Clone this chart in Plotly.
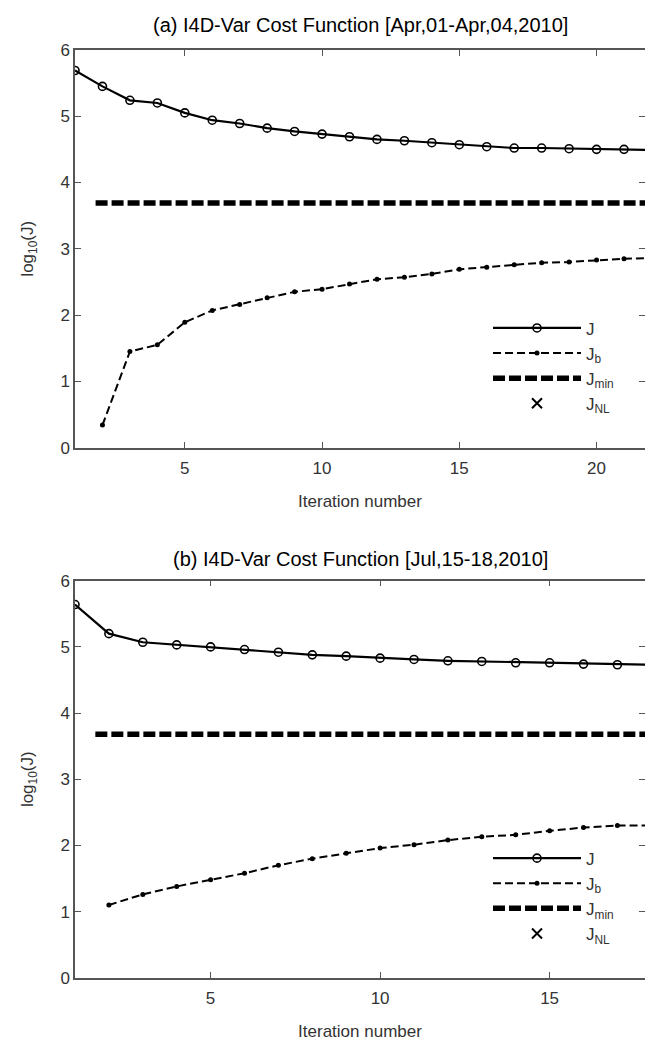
import plotly.graph_objects as go

# ---------------- data: panel (a) ----------------
iter_a = list(range(1, 23))
J_a = [5.69, 5.45, 5.24, 5.20, 5.05, 4.94, 4.89, 4.82, 4.77, 4.73, 4.69,
       4.65, 4.63, 4.60, 4.57, 4.54, 4.52, 4.52, 4.51, 4.50, 4.50, 4.49]
iter_b_a = list(range(2, 23))
Jb_a = [0.34, 1.45, 1.55, 1.89, 2.07, 2.16, 2.26, 2.35, 2.39, 2.47, 2.54,
        2.57, 2.62, 2.69, 2.72, 2.76, 2.79, 2.80, 2.83, 2.85, 2.86]
Jmin_x_a = [1.75, 22]
Jmin_a = [3.69, 3.69]

# ---------------- data: panel (b) ----------------
iter_b = list(range(1, 19))
J_b = [5.64, 5.20, 5.07, 5.03, 5.00, 4.96, 4.92, 4.88, 4.86, 4.83, 4.81,
       4.79, 4.78, 4.76, 4.76, 4.74, 4.73, 4.73]
iter_b_b = list(range(2, 19))
Jb_b = [1.10, 1.26, 1.38, 1.48, 1.58, 1.70, 1.80, 1.88, 1.96, 2.01, 2.08,
        2.13, 2.16, 2.22, 2.27, 2.30, 2.30]
Jmin_x_b = [1.6, 18]
Jmin_b = [3.68, 3.68]

titles = ["(a) I4D-Var Cost Function [Apr,01-Apr,04,2010]",
          "(b) I4D-Var Cost Function [Jul,15-18,2010]"]
x_ticks_a = [5, 10, 15, 20]
x_ticks_b = [5, 10, 15]
y_ticks = [0, 1, 2, 3, 4, 5, 6]

FONT = "Liberation Sans, Arial, sans-serif"
TXT = "#333333"
AX = "#555555"
W, H = 645, 1045

fig = go.Figure()

def add_panel(xs, J, xb, Jb, xm, Jm, xa, ya, leg):
    fig.add_trace(go.Scatter(x=xs, y=J, mode="lines+markers", name="J",
                             line=dict(color="black", width=2.2),
                             marker=dict(symbol="circle-open", size=8, color="black",
                                         line=dict(width=1.6)),
                             xaxis=xa, yaxis=ya, legend=leg, cliponaxis=True))
    fig.add_trace(go.Scatter(x=xb, y=Jb, mode="lines+markers", name="J<sub>b</sub>",
                             line=dict(color="black", width=2, dash="8px,4px"),
                             marker=dict(symbol="circle", size=5, color="black"),
                             xaxis=xa, yaxis=ya, legend=leg, cliponaxis=True))
    fig.add_trace(go.Scatter(x=xm, y=Jm, mode="lines", name="J<sub>min</sub>",
                             line=dict(color="black", width=5.5, dash="12px,4px"),
                             xaxis=xa, yaxis=ya, legend=leg))
    fig.add_trace(go.Scatter(x=[None], y=[None], mode="markers", name="J<sub>NL</sub>",
                             marker=dict(symbol="x-thin", size=10, color="black",
                                         line=dict(width=2, color="black")),
                             xaxis=xa, yaxis=ya, legend=leg))

add_panel(iter_a, J_a, iter_b_a, Jb_a, Jmin_x_a, Jmin_a, "x", "y", "legend")
add_panel(iter_b, J_b, iter_b_b, Jb_b, Jmin_x_b, Jmin_b, "x2", "y2", "legend2")

L = 75
dom_x = [0, 1]
def ydom(top_px, bot_px):
    return [1 - bot_px / H, 1 - top_px / H]

dom_a = ydom(41.7, 446.7)
dom_b = ydom(582.3, 986.7)

xr_a = [1, 1 + (W - L) / 27.45]
xr_b = [1, 1 + (W - L) / 33.9]

common_x = dict(showline=True, linecolor=AX, linewidth=1.5, mirror="ticks",
                ticks="inside", ticklen=6, tickcolor=AX, tickwidth=1,
                showgrid=False, zeroline=False, ticklabelstandoff=4,
                tickfont=dict(family=FONT, size=17, color=TXT),
                title=dict(text="Iteration number", font=dict(family=FONT, size=17, color=TXT),
                           standoff=18))
common_y = dict(showline=True, linecolor=AX, linewidth=1.5, mirror=False,
                ticks="inside", ticklen=6, tickcolor=AX, tickwidth=1,
                showgrid=False, zeroline=False, range=[0, 6], tickvals=y_ticks,
                tickfont=dict(family=FONT, size=17, color=TXT),
                title=dict(text="log<sub>10</sub>(J)", font=dict(family=FONT, size=17, color=TXT),
                           standoff=22))
right_y = dict(showline=False, ticks="inside", ticklen=6, tickcolor=AX, tickwidth=1,
               showticklabels=False, showgrid=False, zeroline=False, range=[0, 6],
               tickvals=y_ticks, side="right")

LEGX = (488 - L) / (W - L)
fig.update_layout(
    width=W, height=H,
    margin=dict(l=L, r=0, t=0, b=0),
    paper_bgcolor="white", plot_bgcolor="white",
    xaxis=dict(domain=dom_x, range=xr_a, tickvals=x_ticks_a, anchor="y", **common_x),
    yaxis=dict(domain=dom_a, anchor="x", **common_y),
    xaxis2=dict(domain=dom_x, range=xr_b, tickvals=x_ticks_b, anchor="y2", **common_x),
    yaxis2=dict(domain=dom_b, anchor="x2", **common_y),
    yaxis3=dict(overlaying="y", anchor="x", **right_y),
    yaxis4=dict(overlaying="y2", anchor="x2", **right_y),
    legend=dict(x=LEGX, xanchor="left", y=1 - 307 / H, yanchor="top",
                xref="paper", yref="paper",
                bgcolor="rgba(0,0,0,0)", borderwidth=0, itemwidth=88,
                font=dict(family=FONT, size=17, color=TXT), tracegroupgap=0),
    legend2=dict(x=LEGX, xanchor="left", y=1 - 847 / H, yanchor="top",
                 xref="paper", yref="paper",
                 bgcolor="rgba(0,0,0,0)", borderwidth=0, itemwidth=88,
                 font=dict(family=FONT, size=17, color=TXT), tracegroupgap=0),
    showlegend=True,
)

# invisible traces so the right-side tick axes render
fig.add_trace(go.Scatter(x=[None], y=[None], xaxis="x", yaxis="y3", showlegend=False, hoverinfo="skip"))
fig.add_trace(go.Scatter(x=[None], y=[None], xaxis="x2", yaxis="y4", showlegend=False, hoverinfo="skip"))

for t, ya, ys in zip(titles, ["y", "y2"], [12, 9]):
    xa = "x" if ya == "y" else "x2"
    fig.add_annotation(text=t, xref=xa + " domain", yref=ya + " domain", x=0.5, y=1,
                       xanchor="center", yanchor="bottom", yshift=ys, showarrow=False,
                       font=dict(family=FONT, size=20, color="black"))

fig.write_html("out.html")
